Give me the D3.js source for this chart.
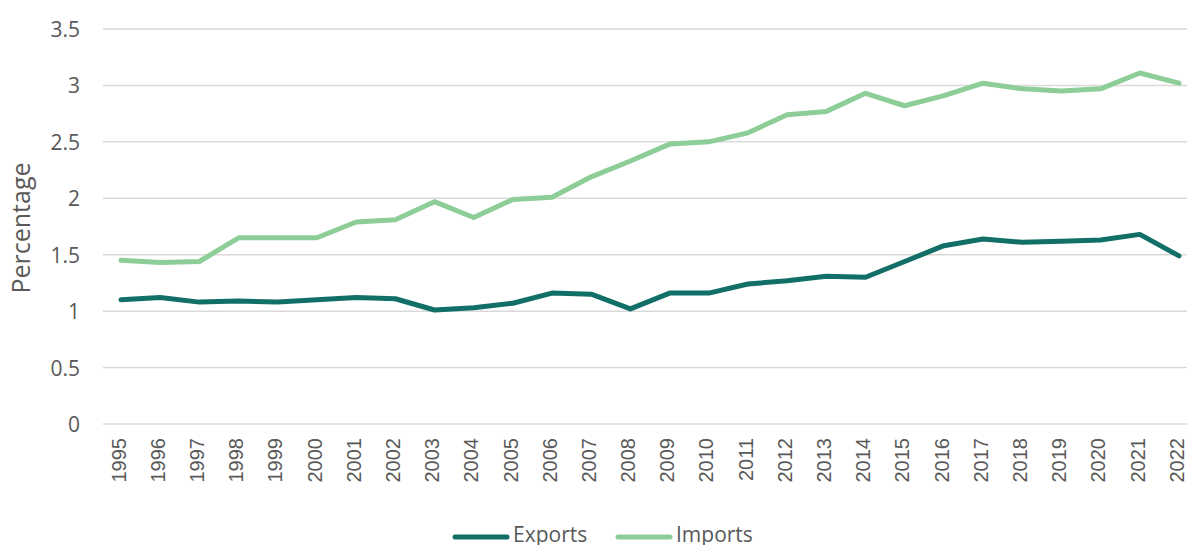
<!DOCTYPE html>
<html>
<head>
<meta charset="utf-8">
<script src="https://cdn.jsdelivr.net/npm/d3@7"></script>
<style>
  html, body { margin: 0; padding: 0; background: #fff; }
  svg { display: block; }
</style>
</head>
<body>
<svg id="chart" width="1187" height="545"></svg>
<script>
// Years on the category axis
const years = [
  "1995","1996","1997","1998","1999","2000","2001","2002","2003","2004",
  "2005","2006","2007","2008","2009","2010","2011","2012","2013","2014",
  "2015","2016","2017","2018","2019","2020","2021","2022"
];

// Share (%) for each series
const exportsValues = [
  1.10, 1.12, 1.08, 1.09, 1.08, 1.10, 1.12, 1.11, 1.01, 1.03,
  1.07, 1.16, 1.15, 1.02, 1.16, 1.16, 1.24, 1.27, 1.31, 1.30,
  1.44, 1.58, 1.64, 1.61, 1.62, 1.63, 1.68, 1.49
];
const importsValues = [
  1.45, 1.43, 1.44, 1.65, 1.65, 1.65, 1.79, 1.81, 1.97, 1.83,
  1.99, 2.01, 2.19, 2.33, 2.48, 2.50, 2.58, 2.74, 2.77, 2.93,
  2.82, 2.91, 3.02, 2.97, 2.95, 2.97, 3.11, 3.02
];

const yTicks = [0, 0.5, 1, 1.5, 2, 2.5, 3, 3.5];

const seriesNames = ["Exports", "Imports"];
const seriesColors = ["#116f67", "#8dcd97"];

const svg = d3.select("#chart");

const plot = { left: 103, right: 1187, top: 29, bottom: 424 };

const x = d3.scalePoint()
  .domain(years)
  .range([121, 1179]);

const y = d3.scaleLinear()
  .domain([0, 3.5])
  .range([plot.bottom, plot.top]);

// Horizontal gridlines
svg.append("g")
  .selectAll("line")
  .data(yTicks)
  .join("line")
  .attr("x1", plot.left)
  .attr("x2", plot.right)
  .attr("y1", d => y(d))
  .attr("y2", d => y(d))
  .attr("stroke", "#d9d9d9")
  .attr("stroke-width", 1.5);

// Y axis labels
const yAxis = d3.axisLeft(y)
  .tickValues(yTicks)
  .tickSize(0)
  .tickPadding(0)
  .tickFormat(d => String(d));

svg.append("g")
  .attr("transform", "translate(80,0)")
  .call(yAxis)
  .call(g => g.select(".domain").remove())
  .selectAll("text")
  .attr("font-family", "'Open Sans', sans-serif")
  .attr("font-size", 21)
  .attr("fill", "#595959")
  .attr("dy", "0.36em");

// X axis labels, rotated
const xAxis = d3.axisBottom(x).tickSize(0).tickPadding(0);

svg.append("g")
  .attr("transform", `translate(0,${plot.bottom})`)
  .call(xAxis)
  .call(g => g.select(".domain").remove())
  .selectAll("text")
  .attr("font-family", "'Liberation Sans', Arial, sans-serif")
  .attr("font-size", 20)
  .attr("fill", "#595959")
  .attr("text-anchor", "end")
  .attr("transform", "translate(-3,0) rotate(-90)")
  .attr("x", -14)
  .attr("y", 0)
  .attr("dy", "0.36em");

// Y axis title
svg.append("text")
  .attr("transform", "translate(30,228) rotate(-90)")
  .attr("text-anchor", "middle")
  .attr("font-family", "'Open Sans', sans-serif")
  .attr("font-size", 25)
  .attr("fill", "#595959")
  .text("Percentage");

// Series lines
const line = d3.line()
  .x((d, i) => x(years[i]))
  .y(d => y(d));

const seriesData = [exportsValues, importsValues];

svg.append("g")
  .selectAll("path")
  .data(seriesData)
  .join("path")
  .attr("d", d => line(d))
  .attr("fill", "none")
  .attr("stroke", (d, i) => seriesColors[i])
  .attr("stroke-width", 5)
  .attr("stroke-linejoin", "round")
  .attr("stroke-linecap", "round");

// Legend
const legendItems = [
  { name: seriesNames[0], color: seriesColors[0], x: 455 },
  { name: seriesNames[1], color: seriesColors[1], x: 618 }
];

const legend = svg.append("g");
const item = legend.selectAll("g")
  .data(legendItems)
  .join("g")
  .attr("transform", d => `translate(${d.x},537)`);

item.append("line")
  .attr("x1", 0)
  .attr("x2", 52)
  .attr("stroke", d => d.color)
  .attr("stroke-width", 5)
  .attr("stroke-linecap", "round");

item.append("text")
  .attr("x", 58)
  .attr("y", 5)
  .attr("font-family", "'Open Sans', sans-serif")
  .attr("font-size", 21)
  .attr("fill", "#595959")
  .text(d => d.name);
</script>
</body>
</html>
